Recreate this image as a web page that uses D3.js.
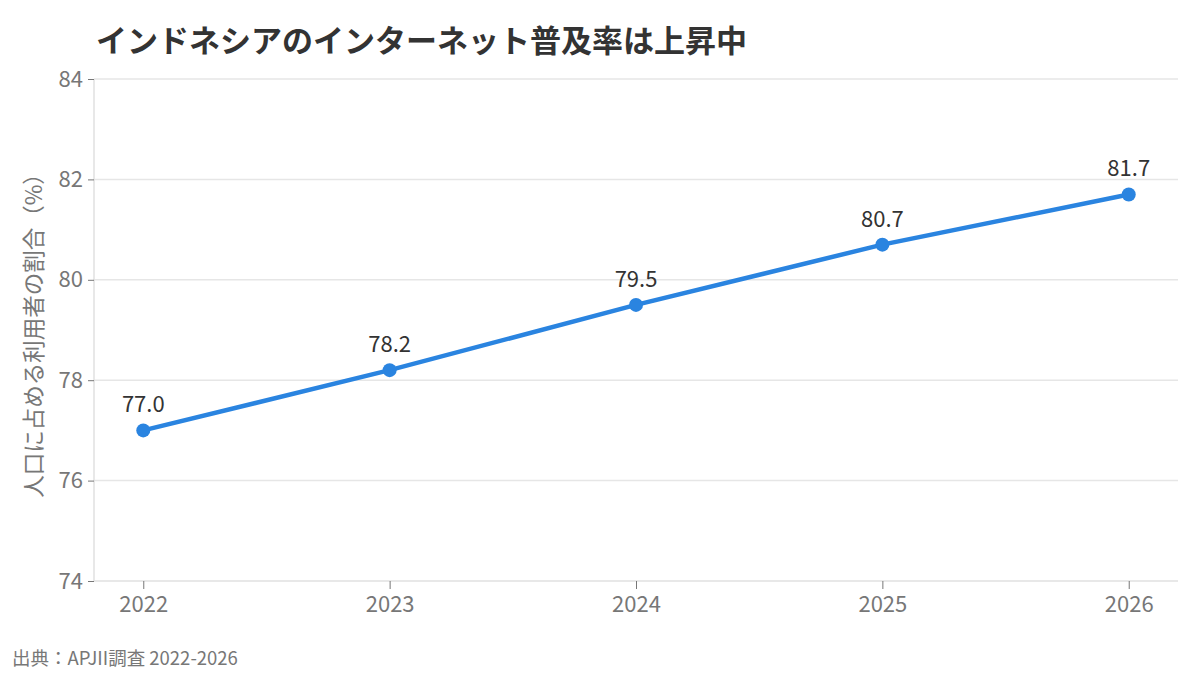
<!DOCTYPE html>
<html>
<head>
<meta charset="utf-8">
<script src="https://cdn.jsdelivr.net/npm/d3@7"></script>
<style>
  body { margin: 0; background: #fff; }
  svg { font-family: "Noto Sans CJK JP", "Noto Sans", sans-serif; }
</style>
</head>
<body>
<svg id="chart"></svg>
<script>
var chartWidth = 1200;
var chartHeight = 675;

// data
var years = [2022, 2023, 2024, 2025, 2026];
var rates = [77.0, 78.2, 79.5, 80.7, 81.7];
var yTicks = [74, 76, 78, 80, 82, 84];

var titleText = "インドネシアのインターネット普及率は上昇中";
var yLabel = "人口に占める利用者の割合（%）";
var sourceText = "出典：APJII調査 2022-2026";

var plotLeft = 94, plotRight = 1178, plotTop = 79, plotBottom = 581;

var svg = d3.select("#chart")
    .attr("width", chartWidth)
    .attr("height", chartHeight);

// scales
var x = d3.scalePoint()
    .domain(years)
    .range([plotLeft, plotRight])
    .padding(0.2);

var y = d3.scaleLinear()
    .domain([74, 84])
    .range([plotBottom, plotTop]);

// gridlines
svg.append("g")
    .selectAll("line")
    .data(yTicks.slice(1))
    .enter().append("line")
    .attr("x1", plotLeft)
    .attr("x2", plotRight)
    .attr("y1", function(d){ return y(d); })
    .attr("y2", function(d){ return y(d); })
    .attr("stroke", "#e6e6e6")
    .attr("stroke-width", 1.5);

// axes
var yAxisGroup = svg.append("g")
    .attr("transform", "translate(" + plotLeft + ",0)")
    .call(d3.axisLeft(y).tickValues(yTicks).tickSize(6).tickPadding(5));

var xAxisGroup = svg.append("g")
    .attr("transform", "translate(0," + plotBottom + ")")
    .call(d3.axisBottom(x).tickSize(8).tickPadding(7));

[yAxisGroup, xAxisGroup].forEach(function(g){
    g.select(".domain").attr("stroke", "#e0e0e0").attr("stroke-width", 1.5);
    g.selectAll(".tick line").attr("stroke", "#777");
    g.selectAll(".tick text")
        .attr("fill", "#777")
        .style("font-size", "22px")
        .style("font-family", "'Noto Sans CJK JP', sans-serif");
});
xAxisGroup.select(".domain").attr("d", "M" + plotLeft + ",0H" + plotRight);
yAxisGroup.select(".domain").attr("d", "M0," + plotBottom + "V" + plotTop);

// line
var line = d3.line()
    .x(function(d, i){ return x(years[i]); })
    .y(function(d){ return y(d); });

svg.append("path")
    .datum(rates)
    .attr("fill", "none")
    .attr("stroke", "#2a84e0")
    .attr("stroke-width", 4.5)
    .attr("d", line);

svg.append("g")
    .selectAll("circle")
    .data(rates)
    .enter().append("circle")
    .attr("cx", function(d, i){ return x(years[i]); })
    .attr("cy", function(d){ return y(d); })
    .attr("r", 7)
    .attr("fill", "#2a84e0");

// value labels
svg.append("g")
    .selectAll("text")
    .data(rates)
    .enter().append("text")
    .attr("x", function(d, i){ return x(years[i]); })
    .attr("y", function(d){ return y(d) - 18; })
    .attr("text-anchor", "middle")
    .attr("fill", "#333")
    .style("font-size", "22px")
    .text(function(d){ return d.toFixed(1); });

// title
svg.append("text")
    .attr("x", 96)
    .attr("y", 52)
    .attr("fill", "#333")
    .style("font-size", "31px")
    .style("font-weight", "bold")
    .text(titleText);

// y label
svg.append("text")
    .attr("transform", "translate(42," + ((plotTop + plotBottom) / 2) + ") rotate(-90)")
    .attr("text-anchor", "middle")
    .attr("fill", "#777")
    .style("font-size", "22.5px")
    .text(yLabel);

// source
svg.append("text")
    .attr("x", 12)
    .attr("y", 665)
    .attr("fill", "#777")
    .style("font-size", "18.5px")
    .text(sourceText);
</script>
</body>
</html>
